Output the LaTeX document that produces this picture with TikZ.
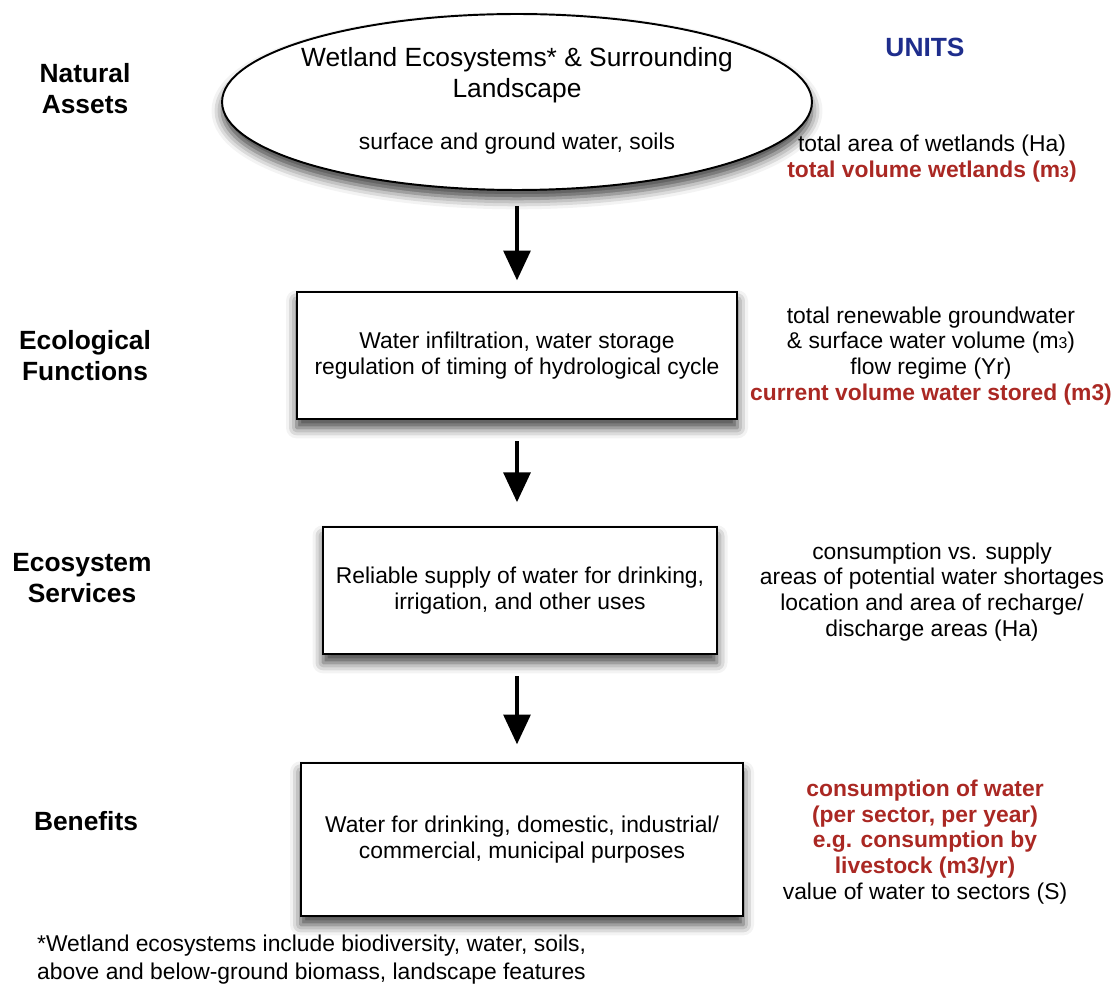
\documentclass[tikz,border=0pt]{standalone}
\usepackage{fontspec}
\setmainfont{Liberation Sans}
\usetikzlibrary{arrows.meta,shapes.geometric,shadows.blur}
\definecolor{unitred}{RGB}{170,40,35}
\definecolor{unitblue}{RGB}{30,45,140}
\newcommand{\hi}[1]{{\color{unitred}\bfseries #1}}
\newcommand{\mcube}{m{\fontsize{9}{9}\selectfont 3}}

\begin{document}
\begin{tikzpicture}[x=0.02cm, y=-0.02cm,
    level/.style={align=center, font=\fontsize{15}{17.6}\selectfont\bfseries},
    stage/.style={draw, line width=1.1pt, fill=white, align=center,
      font=\fontsize{13}{14.7}\selectfont,
      blur shadow={shadow xshift=0pt, shadow yshift=-5pt, shadow blur radius=6pt, shadow opacity=75}},
    units/.style={align=center, font=\fontsize{13}{14.7}\selectfont},
    flow/.style={line width=2.8pt, -{Triangle[width=15pt, length=17pt]}}]
  \useasboundingbox (0, 0) rectangle (1119, 986);
  % levels on the left
  \node[level] (natural) at (85, 89) {Natural\\Assets};
  \node[level] (ecolog) at (85, 356) {Ecological\\Functions};
  \node[level] (ecoserv) at (82, 578) {Ecosystem\\Services};
  \node[level] (benefit) at (86, 821) {Benefits};
  % the chain in the middle
  \node[stage, ellipse, minimum width=11.8cm, minimum height=3.52cm] (wetland) at (517, 102) {};
  \node[align=center, font=\fontsize{15}{17.6}\selectfont] (wetlandtitle) at (517, 75)
    {Wetland Ecosystems* \& Surrounding\\Landscape};
  \node[units] (wetlandsub) at (517, 144) {surface and ground water, soils};
  \node[stage, minimum width=8.82cm, minimum height=2.54cm] (infilt) at (517, 355.5)
    {Water infiltration, water storage\\regulation of timing of hydrological cycle};
  \node[stage, minimum width=7.88cm, minimum height=2.54cm] (supply) at (520, 590.5)
    {Reliable supply of water for drinking,\\irrigation, and other uses};
  \node[stage, minimum width=8.86cm, minimum height=3.06cm] (purpose) at (522, 839.5)
    {Water for drinking, domestic, industrial/\\commercial, municipal purposes};
  \draw[flow, shorten <=8.5pt, shorten >=6pt] (wetland.south) -- (wetland.south |- infilt.north);
  \draw[flow, shorten <=12pt, shorten >=13.5pt] (infilt.south) -- (infilt.south |- supply.north);
  \draw[flow, shorten <=12pt, shorten >=10pt] (infilt.south |- supply.south) -- (infilt.south |- purpose.north);
  % units column
  \node[font=\fontsize{15}{17.6}\selectfont\bfseries, text=unitblue] (unitshead) at (925, 47) {UNITS};
  \node[units] (unitsA) at (932, 159)
    {total area of wetlands (Ha)\\\hi{total volume wetlands (\mcube)}};
  \node[units] (unitsB) at (931, 356)
    {total renewable groundwater\\\& surface water volume (\mcube)\\flow regime (Yr)\\
     \hi{current volume water stored (m3)}};
  \node[units] (unitsC) at (932, 592)
    {consumption vs. supply\\areas of potential water shortages\\
     location and area of recharge/\\discharge areas (Ha)};
  \node[units] (unitsD) at (925, 842)
    {\hi{consumption of water}\\\hi{(per sector, per year)}\\\hi{e.g. consumption by}\\
     \hi{livestock (m3/yr)}\\value of water to sectors (S)};
  % footnote
  \node[anchor=west, align=left, font=\fontsize{13}{15.9}\selectfont] (footnote) at (31, 960)
    {*Wetland ecosystems include biodiversity, water, soils,\\
     above and below-ground biomass, landscape features};
\end{tikzpicture}
\end{document}
